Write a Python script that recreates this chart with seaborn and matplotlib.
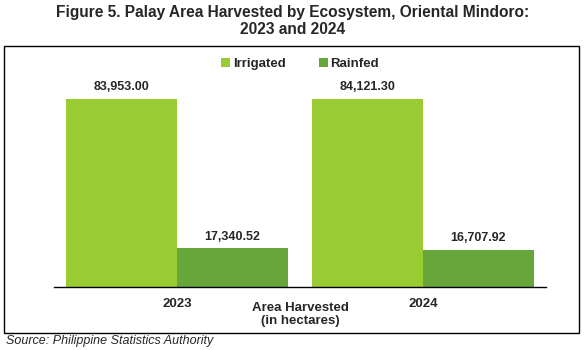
import pandas as pd
import matplotlib.pyplot as plt
import seaborn as sns
from matplotlib.patches import Rectangle

# ---------- dados ----------
anos = ['2023', '2024']
ecossistemas = ['Irrigated', 'Rainfed']
irrigated = [83953.00, 84121.30]
rainfed = [17340.52, 16707.92]

df = pd.DataFrame({
    'Ano': anos * 2,
    'Ecosystem': [ecossistemas[0]] * 2 + [ecossistemas[1]] * 2,
    'Area': irrigated + rainfed,
})

cores = {'Irrigated': '#99CC33', 'Rainfed': '#66A63A'}

sns.set_style('white')
plt.rcParams['font.family'] = ['Liberation Sans', 'DejaVu Sans']

fig = plt.figure(figsize=(5.85, 3.5), dpi=100)
ax = fig.add_axes([54 / 585, (350 - 287) / 350, (546 - 54) / 585, (287 - 63) / 350])

sns.barplot(data=df, x='Ano', y='Area', hue='Ecosystem', palette=cores,
            width=0.9, saturation=1, linewidth=0, ax=ax, legend=True)

ax.set_ylim(0, 100000)
for s in ['top', 'right', 'left']:
    ax.spines[s].set_visible(False)
ax.spines['bottom'].set_color('black')
ax.spines['bottom'].set_linewidth(1)
ax.set_yticks([])
ax.set_ylabel('')
ax.tick_params(axis='x', length=0, pad=8)
for t in ax.get_xticklabels():
    t.set_fontweight('bold')
    t.set_fontsize(9.5)
ax.set_xlabel('Area Harvested\n(in hectares)', fontweight='bold', fontsize=9.5,
              labelpad=-6, linespacing=1.1)

for cont in ax.containers:
    ax.bar_label(cont, labels=[f'{v:,.2f}' for v in cont.datavalues],
                 fontweight='bold', fontsize=9, padding=4)

leg = ax.legend(loc='upper center', bbox_to_anchor=(0.5, 1.075), ncol=2,
                frameon=False, handlelength=0.7, handleheight=0.7,
                handletextpad=0.2, columnspacing=2.5,
                prop={'weight': 'bold', 'size': 9.5})

fig.text(0.5, 1 - 5 / 350, 'Figure 5. Palay Area Harvested by Ecosystem, Oriental Mindoro:\n2023 and 2024',
         ha='center', va='top', fontweight='bold', fontsize=11.2, linespacing=1.2)

fig.patches.append(Rectangle((4 / 585, (350 - 333) / 350), (579 - 4) / 585, (333 - 46) / 350,
                             transform=fig.transFigure, fill=False, edgecolor='black',
                             linewidth=1))

fig.text(6 / 585, 1 - 341 / 350, 'Source: Philippine Statistics Authority',
         ha='left', va='center', fontstyle='italic', fontsize=9)

plt.savefig('out.png', dpi=100)
plt.close()
